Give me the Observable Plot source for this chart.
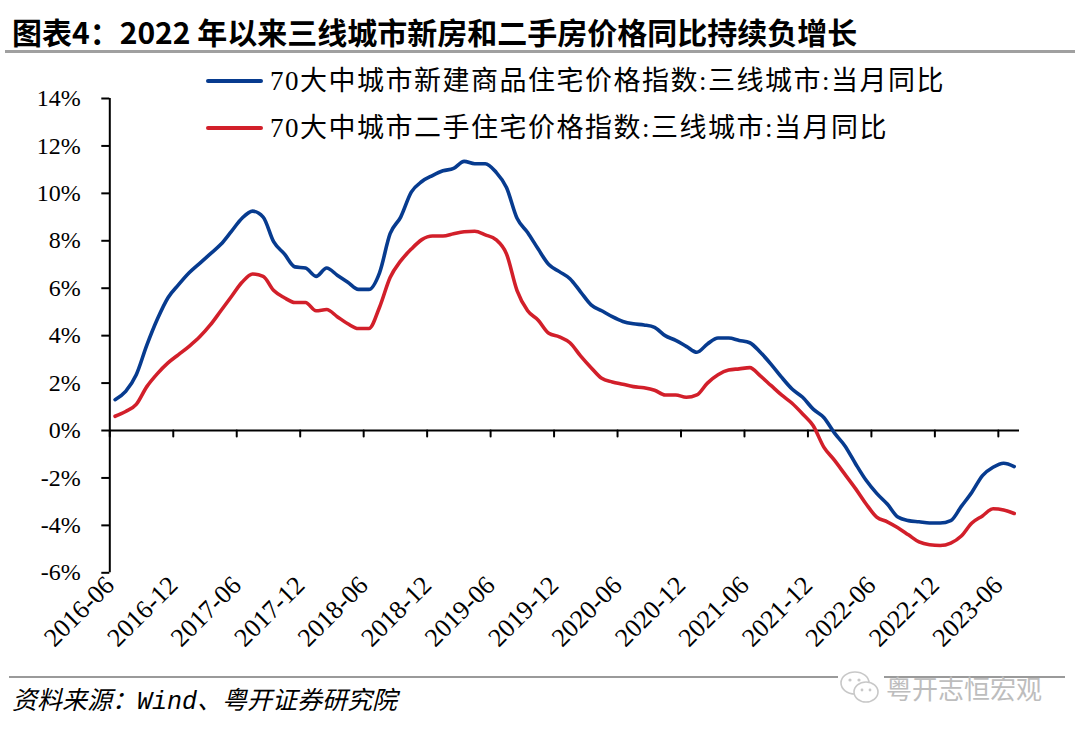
<!DOCTYPE html>
<html>
<head>
<meta charset="utf-8">
<script src="https://cdn.jsdelivr.net/npm/d3@7"></script>
<script src="https://cdn.jsdelivr.net/npm/@observablehq/plot@0.6"></script>
<style>
  body { margin: 0; background: #fff; }
  #wrap { position: relative; width: 1080px; height: 733px; overflow: hidden; background: #fff; }
  #title { position: absolute; left: 12px; top: 11px; font: bold 30px "Noto Sans CJK SC", sans-serif; line-height: 40px; color: #000; white-space: nowrap; }
  .hr { position: absolute; background: #a0a0a0; }
  #chart { position: absolute; left: 0; top: 55px; }
  #chart svg text { font-family: "Liberation Serif", "Times New Roman", serif; }
  #legend { position: absolute; left: 0; top: 0; }
  .lg-row { position: absolute; left: 206px; height: 30px; white-space: nowrap; }
  .lg-sw { position: absolute; left: 0; top: 13px; width: 57px; height: 4px; border-radius: 2px; }
  .lg-tx { position: absolute; left: 64px; top: 0; font: 27px "Liberation Serif", "Noto Sans CJK SC", serif; letter-spacing: 1.5px; line-height: 30px; color: #000; }
  #source { position: absolute; left: 12px; top: 686px; font: italic 25px "Liberation Mono", "Noto Sans CJK SC", monospace; line-height: 34px; color: #000; white-space: nowrap; }
  #wm { position: absolute; left: 838px; top: 668px; height: 40px; white-space: nowrap; background: #fff; }
  #wm span { position: absolute; left: 48px; top: 2px; font: 26px "Noto Sans CJK SC", sans-serif; line-height: 36px; color: #bdbdbd; }
</style>
</head>
<body>
<div id="wrap">
  <div id="title">图表4：2022 年以来三线城市新房和二手房价格同比持续负增长</div>
  <div class="hr" style="left:5px; top:50px; width:1070px; height:3px;"></div>
  <div id="chart"></div>
  <div id="legend"></div>
  <div class="hr" style="left:9px; top:676px; width:1056px; height:2px; background:#9a9a9a;"></div>
  <div id="wm">
    <svg width="46" height="40" viewBox="0 0 46 40">
      <ellipse cx="17" cy="15" rx="14" ry="11" fill="#fff" stroke="#c8c8c8" stroke-width="1.6"/>
      <ellipse cx="28" cy="24" rx="12" ry="10" fill="#fff" stroke="#c8c8c8" stroke-width="1.6"/>
      <circle cx="12" cy="12" r="1.6" fill="#c8c8c8"/><circle cx="21" cy="12" r="1.6" fill="#c8c8c8"/>
      <circle cx="24" cy="22" r="1.4" fill="#c8c8c8"/><circle cx="32" cy="22" r="1.4" fill="#c8c8c8"/>
    </svg>
    <span>粤开志恒宏观</span>
  </div>
  <div id="source">资料来源：Wind、粤开证券研究院</div>
</div>
<script>
// ---- data ----
const seriesNames = [
  "70大中城市新建商品住宅价格指数:三线城市:当月同比",
  "70大中城市二手住宅价格指数:三线城市:当月同比"
];
const seriesColors = ["#073b8f", "#d21f2a"];

// monthly categories 2016-06 … 2023-07
const months = d3.utcMonths(new Date(Date.UTC(2016, 5, 1)), new Date(Date.UTC(2023, 7, 1)))
  .map(d3.utcFormat("%Y-%m"));

// 新建商品住宅 YoY (%)
const newHome = [
  1.3, 1.65, 2.35, 3.6, 4.7, 5.6, 6.15, 6.65, 7.05, 7.45, 7.85, 8.4,
  8.95, 9.25, 9.0, 7.95, 7.45, 6.9, 6.85, 6.5, 6.85, 6.55, 6.25, 5.95,
  5.95, 6.65, 8.3, 9.0, 10.05, 10.5, 10.75, 10.95, 11.05, 11.35, 11.25, 11.25,
  10.9, 10.25, 8.95, 8.35, 7.65, 7.0, 6.7, 6.4, 5.85, 5.3, 5.05, 4.8,
  4.6, 4.5, 4.45, 4.35, 4.0, 3.8, 3.55, 3.3, 3.65, 3.9, 3.9, 3.8,
  3.7, 3.3, 2.8, 2.25, 1.75, 1.4, 0.9, 0.55, -0.1, -0.65, -1.4, -2.1,
  -2.65, -3.1, -3.65, -3.8, -3.85, -3.9, -3.9, -3.8, -3.2, -2.6, -1.9, -1.55,
  -1.38, -1.52
];

// 二手住宅 YoY (%)
const secondHand = [
  0.6, 0.8, 1.1, 1.85, 2.4, 2.85, 3.2, 3.55, 3.95, 4.45, 5.05, 5.65,
  6.25, 6.6, 6.5, 5.9, 5.6, 5.4, 5.4, 5.05, 5.1, 4.8, 4.5, 4.3,
  4.3, 5.2, 6.45, 7.15, 7.65, 8.05, 8.2, 8.2, 8.3, 8.38, 8.4, 8.25,
  8.05, 7.45, 5.9, 5.05, 4.65, 4.1, 3.95, 3.7, 3.15, 2.65, 2.2, 2.05,
  1.95, 1.85, 1.8, 1.7, 1.5, 1.5, 1.4, 1.5, 2.0, 2.35, 2.55, 2.6,
  2.65, 2.3, 1.9, 1.5, 1.15, 0.7, 0.2, -0.7, -1.25, -1.85, -2.45, -3.1,
  -3.65, -3.85, -4.1, -4.4, -4.7, -4.82, -4.85, -4.75, -4.45, -3.9, -3.6, -3.3,
  -3.35, -3.5
];

const xTickLabels = [
  "2016-06", "2016-12", "2017-06", "2017-12", "2018-06", "2018-12", "2019-06", "2019-12",
  "2020-06", "2020-12", "2021-06", "2021-12", "2022-06", "2022-12", "2023-06"
];
const yTicks = [-6, -4, -2, 0, 2, 4, 6, 8, 10, 12, 14];

// ---- build ----
const rows = months.map((m, i) => ({ i, m, a: newHome[i], b: secondHand[i] }));
// ticks sit on the left boundary of each labelled month
const xTicks = xTickLabels.map(l => months.indexOf(l) - 0.5);
const labelMap = new Map(xTicks.map((t, k) => [t, xTickLabels[k]]));
const tickDown = { draw(ctx, l) { ctx.moveTo(0, 0); ctx.lineTo(0, l); } };
const serif = "'Liberation Serif', 'Times New Roman', serif";

const chart = Plot.plot({
  width: 1080,
  height: 600,
  marginLeft: 109.3,
  marginRight: 61,
  marginTop: 43,
  marginBottom: 82.7,
  style: `font-family: ${serif}; font-size: 24px; color: #000; background: transparent; overflow: visible;`,
  x: { domain: [xTicks[0], months.length - 0.5], label: null },
  y: { domain: [-6, 14], label: null },
  marks: [
    Plot.axisY({ ticks: yTicks, tickSize: 8, tickPadding: 21, strokeWidth: 2, tickFormat: d => d + "%", fontSize: 24, fontFamily: serif, label: null }),
    Plot.axisX({ ticks: xTicks, tickSize: 0, tickPadding: 8, tickRotate: -45, tickFormat: d => labelMap.get(d), fontSize: 26, fontFamily: serif, label: null }),
    Plot.ruleX([xTicks[0]], { stroke: "#000", strokeWidth: 2 }),
    Plot.ruleY([0], { stroke: "#000", strokeWidth: 2 }),
    Plot.vector(xTicks, { x: d => d, y: () => 0, length: 6, anchor: "start", shape: tickDown, stroke: "#000", strokeWidth: 2 }),
    Plot.line(rows, { x: "i", y: "b", stroke: seriesColors[1], strokeWidth: 3.6, curve: "monotone-x" }),
    Plot.line(rows, { x: "i", y: "a", stroke: seriesColors[0], strokeWidth: 3.6, curve: "monotone-x" })
  ]
});
document.getElementById("chart").appendChild(chart);

// legend (overlaid inside the plot, top)
const legend = document.getElementById("legend");
const legendTops = [66, 113];
seriesNames.forEach((name, k) => {
  const row = document.createElement("div");
  row.className = "lg-row";
  row.style.top = legendTops[k] + "px";
  const sw = document.createElement("div");
  sw.className = "lg-sw";
  sw.style.background = seriesColors[k];
  const tx = document.createElement("div");
  tx.className = "lg-tx";
  tx.textContent = name;
  row.appendChild(sw);
  row.appendChild(tx);
  legend.appendChild(row);
});
</script>
</body>
</html>
